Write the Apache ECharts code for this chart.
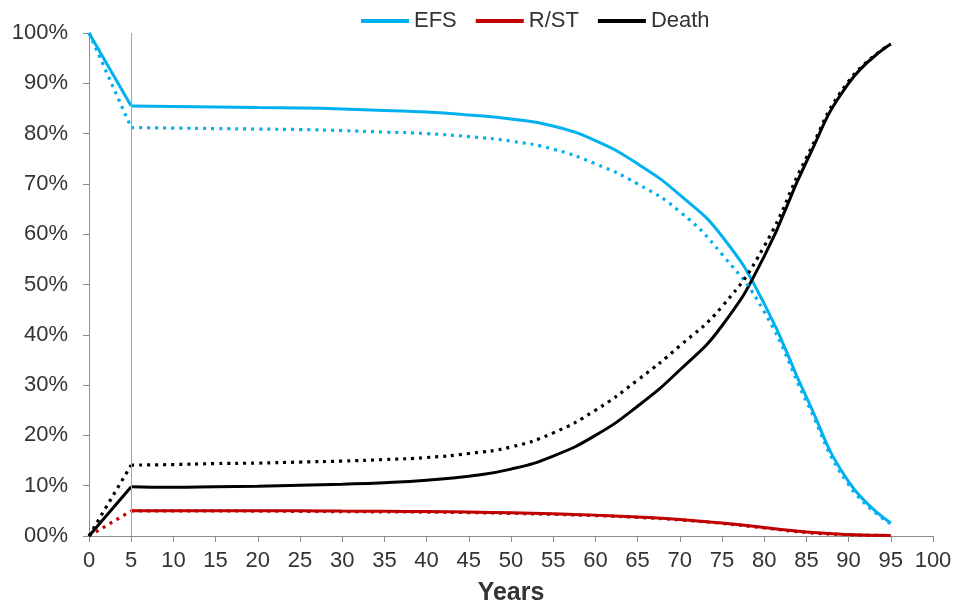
<!DOCTYPE html>
<html>
<head>
<meta charset="utf-8">
<script src="https://cdn.jsdelivr.net/npm/echarts@6/dist/echarts.min.js"></script>
<style>
html,body{margin:0;padding:0;background:#fff;}
#chart{width:956px;height:610px;}
</style>
</head>
<body>
<div id="chart"></div>
<script>
// ---- data (percent) ----
const years = [5,10,15,20,25,30,35,40,45,50,55,60,65,70,75,80,85,90,95];
const startYear = 0;
const efsStart = 100, deathStart = 0, rstStart = 0;
const efsSolid   = [85.5,85.4,85.3,85.2,85.1,84.9,84.6,84.3,83.7,82.9,81.5,78.6,74.0,67.8,59.6,46.2,27.6,10.8,2.6];
const efsDotted  = [81.2,81.1,81.0,80.9,80.8,80.6,80.3,80.0,79.4,78.5,76.9,74.0,70.0,64.5,56.0,44.6,26.8,10.2,2.4];
const rstSolid   = [5.0,5.0,5.0,5.0,5.0,4.95,4.9,4.85,4.75,4.6,4.4,4.15,3.8,3.3,2.6,1.7,0.8,0.3,0.1];
const rstDotted  = [5.0,5.0,5.0,4.95,4.9,4.85,4.8,4.75,4.65,4.5,4.3,4.05,3.7,3.2,2.5,1.6,0.7,0.25,0.1];
const deathSolid = [9.8,9.7,9.8,9.9,10.1,10.3,10.6,11.1,11.9,13.3,15.9,20.0,25.8,33.0,41.8,55.6,74.4,90.0,97.8];
const deathDotted= [14.1,14.2,14.4,14.5,14.7,14.9,15.2,15.6,16.4,17.7,20.5,25.0,31.0,37.8,45.6,57.6,75.2,90.4,97.8];
const xTicks = {min:0, max:100, interval:5};
const yTickLabels = ['00%','10%','20%','30%','40%','50%','60%','70%','80%','90%','100%'];
const landmarkYear = 5;
const names = ['EFS','R/ST','Death'];

const colors = {EFS:'#00B0F0', 'R/ST':'#C00000', Death:'#000000'};
const font = '"Liberation Sans", Arial, sans-serif';
const textColor = '#333333';
const axisColor = '#8c8c8c';

function mainPts(vals){ return years.map((y,i)=>[y, vals[i]]); }
function segPts(start, vals){ return [[startYear, start],[years[0], vals[0]]]; }

function solid(name, data, smooth){
  return {name:name, type:'line', data:data, smooth:smooth, showSymbol:false, symbol:'none',
    lineStyle:{color:colors[name], width:3, type:'solid'}, itemStyle:{color:colors[name]}, z:2};
}
function dotted(name, data, smooth){
  return {name:name+' (dotted)', type:'line', data:data, smooth:smooth, showSymbol:false, symbol:'none',
    lineStyle:{color:colors[name], width:3.2, type:[3,5]}, itemStyle:{color:colors[name]}, z:3};
}

const series = [];
const efsMain = solid('EFS', mainPts(efsSolid), 0.5);
efsMain.markLine = {silent:true, symbol:'none', label:{show:false},
  lineStyle:{color:'#a6a6a6', width:1, type:'solid'}, data:[{xAxis:landmarkYear}]};
series.push(efsMain);
series.push(solid('EFS', segPts(efsStart, efsSolid), false));
series.push(solid('R/ST', mainPts(rstSolid), 0.5));
series.push(solid('Death', mainPts(deathSolid), 0.5));
series.push(solid('Death', segPts(deathStart, deathSolid), false));
series.push(dotted('EFS', mainPts(efsDotted), 0.5));
series.push(dotted('EFS', segPts(efsStart, efsDotted), false));
series.push(dotted('R/ST', mainPts(rstDotted), 0.5));
series.push(dotted('R/ST', segPts(rstStart, rstDotted), false));
series.push(dotted('Death', mainPts(deathDotted), 0.5));
series.push(dotted('Death', segPts(deathStart, deathDotted), false));

const chart = echarts.init(document.getElementById('chart'), null, {renderer:'canvas'});
chart.setOption({
  animation:false,
  backgroundColor:'#ffffff',
  textStyle:{fontFamily:font},
  legend:{
    data:names.map(n=>({name:n, itemStyle:{color:colors[n]}})),
    left:361, top:10, padding:0, icon:'rect', itemWidth:48, itemHeight:4, itemGap:19,
    textStyle:{fontFamily:font, fontSize:22, color:textColor}
  },
  grid:{left:89, right:23, top:33, bottom:74, containLabel:false, outerBoundsMode:'none'},
  xAxis:{
    type:'value', min:xTicks.min, max:xTicks.max, interval:xTicks.interval,
    name:'Years', nameLocation:'middle', nameGap:45,
    nameTextStyle:{fontFamily:font, fontSize:25, fontWeight:'bold', color:textColor},
    axisLine:{show:true, lineStyle:{color:axisColor, width:1}},
    axisTick:{show:true, length:6, lineStyle:{color:axisColor}},
    axisLabel:{fontFamily:font, fontSize:22, color:textColor, margin:14},
    splitLine:{show:false}
  },
  yAxis:{
    type:'value', min:0, max:100, interval:10,
    axisLine:{show:true, lineStyle:{color:axisColor, width:1}},
    axisTick:{show:true, length:6, lineStyle:{color:axisColor}},
    axisLabel:{fontFamily:font, fontSize:22, color:textColor, margin:21,
      formatter:function(v){ return yTickLabels[Math.round(v/10)]; }},
    splitLine:{show:false}
  },
  series:series
});
</script>
</body>
</html>
